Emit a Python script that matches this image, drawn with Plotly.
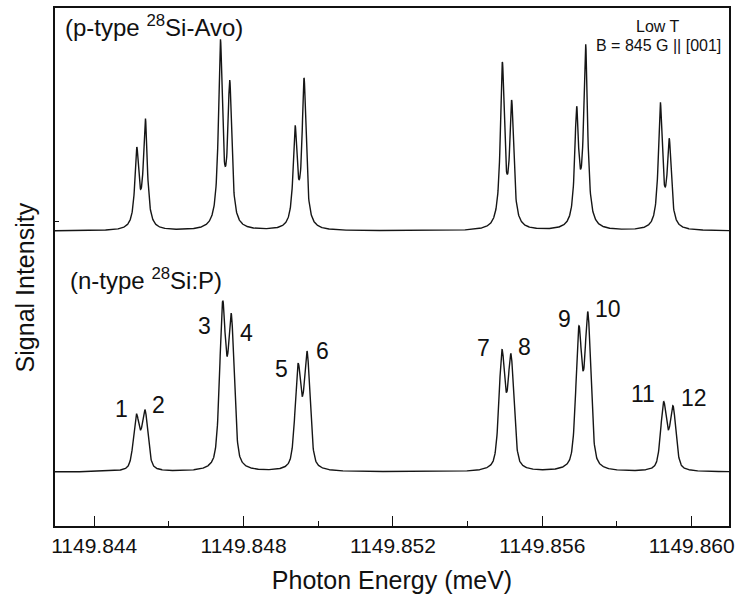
import numpy as np
import plotly.graph_objects as go

# Line positions (meV) and peak heights above baseline (arb. units)
ptype_pos = [1149.84514, 1149.84537, 1149.84738, 1149.84763, 1149.84938, 1149.84962,
             1149.85493, 1149.85518, 1149.85692, 1149.85716, 1149.85916, 1149.85940]
ptype_height = [84, 112.7, 191.7, 151, 105.7, 153.3, 169.3, 131, 124.7, 187.3, 129, 92.7]

ntype_pos = [1149.84513, 1149.84536, 1149.84744, 1149.84767, 1149.84946, 1149.84970,
             1149.85492, 1149.85516, 1149.85698, 1149.85722, 1149.85925, 1149.85950]
ntype_height = [57.7, 62.3, 171, 158.7, 108.7, 121, 122.3, 118.3, 146, 160.3, 70.3, 66.3]

# Line-shape half widths (meV), Lorentzian fractions and vertical offsets
ptype_hwhm, ptype_eta = 0.0000625, 1.0
ntype_hwhm, ntype_eta = 0.0000943, 0.5
ptype_base = 295
ntype_base = 54

peak_labels = ["1", "2", "3", "4", "5", "6", "7", "8", "9", "10", "11", "12"]
x_ticks = [1149.844, 1149.848, 1149.852, 1149.856, 1149.860]


def spectrum(x, pos, height, hwhm, eta, base):
    """Sum of pseudo-Voigt lines whose values at the line centres equal the listed heights."""
    pos = np.asarray(pos)

    def shape(d):
        r2 = (d / hwhm) ** 2
        return eta / (1.0 + r2) + (1.0 - eta) * np.exp(-np.log(2.0) * r2)

    m = shape(pos[:, None] - pos[None, :])
    amp = np.linalg.solve(m, np.asarray(height, dtype=float))
    return base + (amp[None, :] * shape(x[:, None] - pos[None, :])).sum(axis=1)


x = np.linspace(1149.84295, 1149.8610, 2400)
y_p = spectrum(x, ptype_pos, ptype_height, ptype_hwhm, ptype_eta, ptype_base)
y_n = spectrum(x, ntype_pos, ntype_height, ntype_hwhm, ntype_eta, ntype_base)

fig = go.Figure()
for y in (y_p, y_n):
    fig.add_trace(go.Scatter(x=x, y=y, mode="lines",
                             line=dict(color="#151515", width=1.4),
                             hoverinfo="skip", showlegend=False))

font = "Arial, Liberation Sans, sans-serif"

# numbered lines of the n-type spectrum
label_xy = [(1149.84472, 117), (1149.84571, 121), (1149.84695, 200), (1149.84809, 193),
            (1149.84901, 157), (1149.85012, 175), (1149.85443, 178), (1149.85551, 179),
            (1149.85659, 207), (1149.85775, 217), (1149.85871, 132), (1149.86007, 128)]
annotations = []
for txt, (lx, ly) in zip(peak_labels, label_xy):
    annotations.append(dict(x=lx, y=ly, xref="x", yref="y", text=txt, showarrow=False,
                            font=dict(family=font, size=23, color="#111")))

annotations += [
    dict(x=0.012, y=0.965, xref="paper", yref="paper", xanchor="left", yanchor="middle",
         text="(p-type <sup>28</sup>Si-Avo)", showarrow=False,
         font=dict(family=font, size=24, color="#111")),
    dict(x=0.019, y=0.477, xref="paper", yref="paper", xanchor="left", yanchor="middle",
         text="(n-type <sup>28</sup>Si:P)", showarrow=False,
         font=dict(family=font, size=24, color="#111")),
    dict(x=0.895, y=0.965, xref="paper", yref="paper", xanchor="center", yanchor="middle",
         text="Low T", showarrow=False, font=dict(family=font, size=16, color="#111")),
    dict(x=0.895, y=0.927, xref="paper", yref="paper", xanchor="center", yanchor="middle",
         text="B = 845 G || [001]", showarrow=False,
         font=dict(family=font, size=16, color="#111")),
    dict(x=-0.045, y=0.46, xref="paper", yref="paper", xanchor="center", yanchor="middle",
         text="Signal Intensity", textangle=-90, showarrow=False,
         font=dict(family=font, size=25, color="#111")),
]

fig.update_layout(
    width=740, height=604,
    margin=dict(l=55, r=6, t=7, b=78),
    paper_bgcolor="white", plot_bgcolor="white",
    annotations=annotations,
    xaxis=dict(
        range=[1149.84295, 1149.8610], tickvals=x_ticks,
        ticktext=[f"{v:.3f}" for v in x_ticks],
        ticks="inside", ticklen=10, tickwidth=1.3, tickcolor="#111",
        minor=dict(dtick=0.002, tick0=1149.844, ticks="inside", ticklen=5,
                   tickwidth=1.3, tickcolor="#111"),
        showline=True, linecolor="#111", linewidth=1.5, mirror=True,
        showgrid=False, zeroline=False,
        tickfont=dict(family=font, size=21, color="#111"),
        title=dict(text="Photon Energy (meV)", font=dict(family=font, size=25, color="#111"),
                   standoff=16),
    ),
    yaxis=dict(
        range=[0, 518], tickvals=[305],
        ticks="inside", ticklen=4, tickwidth=1.2, tickcolor="#111",
        showline=True, linecolor="#111", linewidth=1.5, mirror=True,
        showgrid=False, zeroline=False, showticklabels=False,
    ),
)

fig.write_html("out.html")
